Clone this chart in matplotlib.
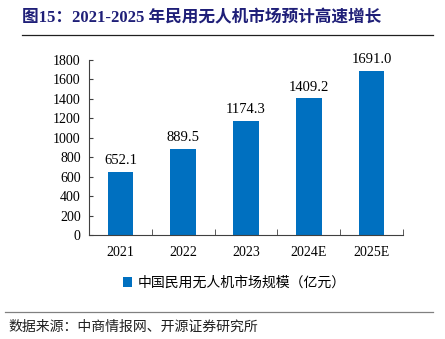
import matplotlib
matplotlib.use('Agg')
import matplotlib.pyplot as plt
from matplotlib.lines import Line2D

years = ['2021', '2022', '2023', '2024E', '2025E']
market = [652.1, 889.5, 1174.3, 1409.2, 1691.0]
yticks = [0, 200, 400, 600, 800, 1000, 1200, 1400, 1600, 1800]

serif = ['Liberation Serif', 'Noto Sans CJK SC']
cjk = ['Noto Sans CJK SC', 'DejaVu Sans']

fig = plt.figure(figsize=(4.45, 3.39), dpi=100)
ax = fig.add_axes([89 / 445, 1 - 235 / 339, (403 - 89) / 445, (235 - 60) / 339])

bars = ax.bar(range(len(years)), market, width=0.41, color='#0070C0',
              label='中国民用无人机市场规模（亿元）')
for i, v in enumerate(market):
    ax.text(i, v + 45, f'{v:.1f}', ha='center', va='bottom',
            family=serif, fontsize=10.5)

ax.set_xlim(-0.5, len(years) - 0.5)
ax.set_ylim(0, 1800)
ax.set_yticks(yticks)
ax.set_yticklabels([str(t) for t in yticks], family=serif, fontsize=10)
ax.set_xticks(range(len(years)))
ax.set_xticklabels(years, family=serif, fontsize=10)
ax.tick_params(axis='x', length=0, pad=8)
ax.tick_params(axis='y', direction='in', length=3, color='#404040', pad=6)
# category boundary ticks on x-axis
ax.set_xticks([i - 0.5 for i in range(len(years) + 1)], minor=True)
ax.tick_params(axis='x', which='minor', direction='in', length=4, color='#404040')
for s in ['top', 'right']:
    ax.spines[s].set_visible(False)
for s in ['left', 'bottom']:
    ax.spines[s].set_color('#404040')
    ax.spines[s].set_linewidth(0.8)

fig.legend(handles=[bars], loc='center left', bbox_to_anchor=(110 / 445, 1 - 283 / 339),
           frameon=False, prop={'family': cjk, 'size': 10}, handlelength=0.7,
           handleheight=0.7, handletextpad=0.4)

fig.text(22 / 445, 1 - 18 / 339, '图15：2021-2025 年民用无人机市场预计高速增长',
         family=['Liberation Serif', 'Noto Sans CJK SC'], fontweight='bold',
         fontsize=12, color='#1F1F78', va='center')
fig.add_artist(Line2D([22 / 445, 433 / 445], [1 - 35 / 339] * 2, color='#202020', lw=0.9))
fig.add_artist(Line2D([5 / 445, 433 / 445], [1 - 312 / 339] * 2, color='#808080', lw=0.9))
fig.text(8 / 445, 1 - 327 / 339, '数据来源：中商情报网、开源证券研究所',
         family=cjk, fontsize=10, va='center', color='#202020')

fig.savefig('out.png', dpi=100)
